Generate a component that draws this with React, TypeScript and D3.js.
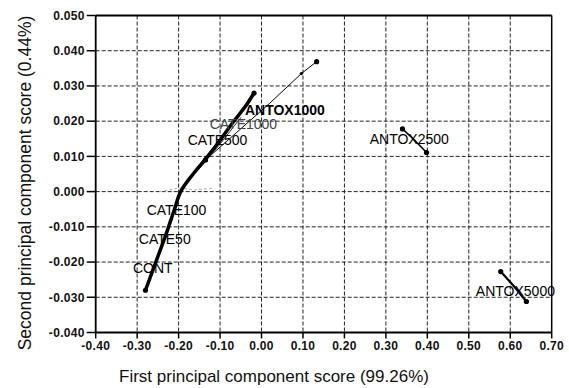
import React from 'react';
import * as d3 from 'd3';

// Tick values
const xTicks = [-0.4, -0.3, -0.2, -0.1, 0.0, 0.1, 0.2, 0.3, 0.4, 0.5, 0.6, 0.7];
const yTicks = [-0.04, -0.03, -0.02, -0.01, 0.0, 0.01, 0.02, 0.03, 0.04, 0.05];

type Pt = [number, number];

// Thick trace running CONT -> CATE50 -> CATE100 -> CATE500 -> CATE1000
const cateTrace: Pt[] = [
  [-0.28, -0.028], [-0.255, -0.020], [-0.23, -0.012], [-0.21, -0.005], [-0.195, 0.0],
  [-0.165, 0.005], [-0.13, 0.010], [-0.10, 0.0146], [-0.07, 0.0195], [-0.04, 0.024], [-0.018, 0.028],
];
// thin traces towards ANTOX1000
const antox1000Trace: Pt[] = [[-0.135, 0.009], [-0.06, 0.0168], [0.02, 0.0251], [0.096, 0.0335], [0.133, 0.0369]];
const cate1000Trace: Pt[] = [[-0.15, 0.0065], [-0.10, 0.0135], [-0.05, 0.021]];
// faint grey trace near zero
const faintTrace: Pt[] = [[-0.245, 0.0], [-0.2, 0.001], [-0.16, 0.0005], [-0.115, 0.001]];
const antox2500Trace: Pt[] = [[0.34, 0.0178], [0.37, 0.0145], [0.398, 0.0111]];
const antox5000Trace: Pt[] = [[0.577, -0.0227], [0.61, -0.027], [0.639, -0.0312]];

const labelNames = ['ANTOX1000', 'CATE1000', 'CATE500', 'CATE100', 'CATE50', 'CONT', 'ANTOX2500', 'ANTOX5000'];
const labelX = [-0.040, -0.125, -0.178, -0.277, -0.296, -0.310, 0.261, 0.517];
const labelY = [0.0218, 0.0178, 0.0133, -0.0065, -0.015, -0.023, 0.0136, -0.0295];
const labelColor = ['#000', '#444', '#000', '#000', '#000', '#000', '#000', '#000'];

const W = 569;
const H = 388;
const margin = { top: 15.5, right: 17.3, bottom: 55.5, left: 95.7 };
const font = "'Liberation Sans', Arial, sans-serif";

export default function App() {
  const x = d3.scaleLinear().domain([-0.4, 0.7]).range([margin.left, W - margin.right]);
  const y = d3.scaleLinear().domain([-0.04, 0.05]).range([H - margin.bottom, margin.top]);
  const line = d3.line<Pt>().x((d) => x(d[0])).y((d) => y(d[1]));
  const smooth = d3.line<Pt>().x((d) => x(d[0])).y((d) => y(d[1])).curve(d3.curveCatmullRom);

  const left = x(-0.4);
  const right = x(0.7);
  const top = y(0.05);
  const bottom = y(-0.04);

  return (
    <svg width={W} height={H} style={{ position: 'absolute', left: 0, top: 0, background: '#fff' }}>
      {/* grid */}
      <g stroke="#222" strokeWidth={1} strokeDasharray="4,2">
        {xTicks.slice(1, -1).map((t) => (
          <line key={'gx' + t} x1={x(t)} x2={x(t)} y1={top} y2={bottom} />
        ))}
        {yTicks.slice(1, -1).map((t) => (
          <line key={'gy' + t} x1={left} x2={right} y1={y(t)} y2={y(t)} />
        ))}
      </g>
      {/* frame */}
      <g stroke="#000" fill="none">
        <line x1={left} x2={right} y1={top} y2={top} strokeWidth={1.8} />
        <line x1={right} x2={right} y1={top} y2={bottom} strokeWidth={1.5} />
        <line x1={left} x2={left} y1={top} y2={bottom} strokeWidth={1.8} />
        <line x1={left} x2={right} y1={bottom} y2={bottom} strokeWidth={1.8} />
      </g>
      {/* y axis */}
      <g fontFamily={font} fontSize={12} fontWeight="bold" fill="#111">
        {yTicks.map((t) => (
          <g key={'ty' + t}>
            <line x1={left - 9} x2={left} y1={y(t)} y2={y(t)} stroke="#000" strokeWidth={1.5} />
            <text x={left - 11} y={y(t) + 4.3} textAnchor="end" letterSpacing={0.3}>
              {d3.format('.3f')(t).replace('−', '-')}
            </text>
          </g>
        ))}
      </g>
      {/* x axis */}
      <g fontFamily={font} fontSize={12} fontWeight="bold" fill="#111">
        {xTicks.map((t) => (
          <g key={'tx' + t}>
            <line x1={x(t)} x2={x(t)} y1={bottom} y2={bottom + 6} stroke="#000" strokeWidth={1.5} />
            <text x={x(t)} y={bottom + 17.5} textAnchor="middle" letterSpacing={0.3}>
              {d3.format('.2f')(t).replace('−', '-')}
            </text>
          </g>
        ))}
      </g>
      {/* axis titles */}
      <text x={274} y={381.5} textAnchor="middle" fontFamily={font} fontSize={17} fill="#111">
        First principal component score (99.26%)
      </text>
      <text
        transform={`translate(31,183) rotate(-90)`}
        textAnchor="middle"
        fontFamily={font}
        fontSize={17.5}
        fill="#111"
      >
        Second principal component score (0.44%)
      </text>
      {/* traces */}
      <g fill="none" strokeLinecap="round" strokeLinejoin="round">
        <path d={line(faintTrace) || ''} stroke="#bbb" strokeWidth={1.2} strokeDasharray="2,3" />
        <path d={line(antox1000Trace) || ''} stroke="#000" strokeWidth={1} />
        <path d={line(cate1000Trace) || ''} stroke="#333" strokeWidth={1} />
        <path d={smooth(cateTrace) || ''} stroke="#000" strokeWidth={3.5} />
        <path d={line(antox2500Trace) || ''} stroke="#000" strokeWidth={1.6} />
        <path d={line(antox5000Trace) || ''} stroke="#000" strokeWidth={2.2} />
      </g>
      <g fill="#000">
        {[cateTrace, antox1000Trace, antox2500Trace, antox5000Trace].map((tr, i) => (
          <g key={'m' + i}>
            <circle cx={x(tr[0][0])} cy={y(tr[0][1])} r={2.6} />
            <circle cx={x(tr[tr.length - 1][0])} cy={y(tr[tr.length - 1][1])} r={2.6} />
          </g>
        ))}
        <circle cx={x(antox1000Trace[3][0])} cy={y(antox1000Trace[3][1])} r={1.6} />
      </g>
      {/* point labels */}
      <g fontFamily={font} fontSize={14}>
        {labelNames.map((n, i) => (
          <text key={n} x={x(labelX[i])} y={y(labelY[i])} fill={labelColor[i]} fontWeight={i === 0 ? 'bold' : 'normal'}>
            {n}
          </text>
        ))}
      </g>
    </svg>
  );
}
